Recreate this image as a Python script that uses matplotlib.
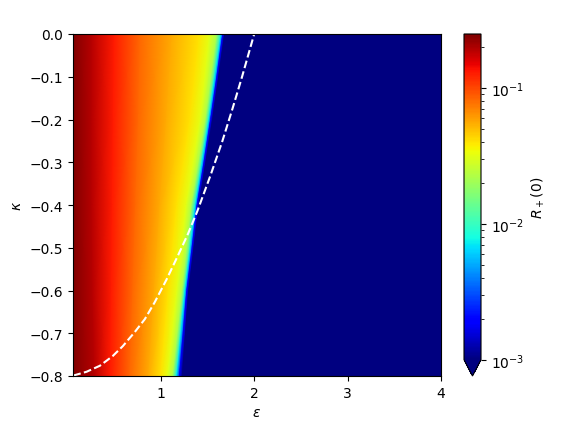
import numpy as np
import matplotlib
matplotlib.use('Agg')
import matplotlib.pyplot as plt
from matplotlib.colors import LogNorm

# valores de R+(0) lidos em cada coluna (mesmo nivel em todas as linhas)
r_levels = [0.25, 0.19, 0.13, 0.083, 0.056, 0.040, 0.032, 0.021, 0.007, 0.002, 8e-4, 8e-4]

# linhas de kappa e posicao em epsilon de cada nivel
kappa_rows = [0.0, -0.2, -0.4, -0.6, -0.8]
eps_k00 = [0.06, 0.26, 0.50, 0.78, 1.12, 1.41, 1.52, 1.60, 1.645, 1.665, 1.685, 4.0]
eps_k02 = [0.06, 0.26, 0.49, 0.76, 1.06, 1.31, 1.42, 1.48, 1.515, 1.535, 1.555, 4.0]
eps_k04 = [0.06, 0.26, 0.48, 0.73, 0.99, 1.17, 1.27, 1.33, 1.37, 1.39, 1.41, 4.0]
eps_k06 = [0.06, 0.27, 0.47, 0.70, 0.93, 1.08, 1.17, 1.23, 1.26, 1.28, 1.30, 4.0]
eps_k08 = [0.06, 0.29, 0.46, 0.67, 0.87, 1.00, 1.07, 1.13, 1.17, 1.20, 1.23, 4.0]

# curva tracejada
eps_curve = [0.063, 0.206, 0.348, 0.487, 0.594, 0.722, 0.829, 0.936, 1.06,
             1.18, 1.29, 1.39, 1.53, 1.66, 1.77, 1.87, 2.0]
kappa_curve = [-0.799, -0.790, -0.776, -0.753, -0.730, -0.697, -0.667, -0.627, -0.575,
               -0.52, -0.468, -0.415, -0.332, -0.25, -0.173, -0.10, 0.0]

X = np.array([eps_k00, eps_k02, eps_k04, eps_k06, eps_k08])
Y = np.repeat(np.array(kappa_rows)[:, None], X.shape[1], axis=1)
C = np.tile(np.array(r_levels), (len(kappa_rows), 1))

fig = plt.figure(figsize=(5.74, 4.27), dpi=100)
ax = fig.add_axes([73/574, 50/427, 368/574, 342/427])
cax = fig.add_axes([464/574, 50/427, 17/574, 342/427])

cmap = plt.get_cmap('jet')
im = ax.pcolormesh(X, Y, C, cmap=cmap, norm=LogNorm(vmin=1e-3, vmax=0.25),
                   shading='gouraud', rasterized=True)
ax.plot(eps_curve, kappa_curve, '--', color='white', lw=1.5)

ax.set_xlim(0.06, 4)
ax.set_ylim(-0.8, 0)
ax.set_xticks([1, 2, 3, 4])
ax.set_yticks(np.round(np.arange(-0.8, 0.01, 0.1), 1))
ax.set_xlabel(r'$\varepsilon$')
ax.set_ylabel(r'$\kappa$')

cb = fig.colorbar(im, cax=cax, extend='min')
cb.set_label(r'$R_+(0)$')

fig.savefig('out.png', dpi=100)
